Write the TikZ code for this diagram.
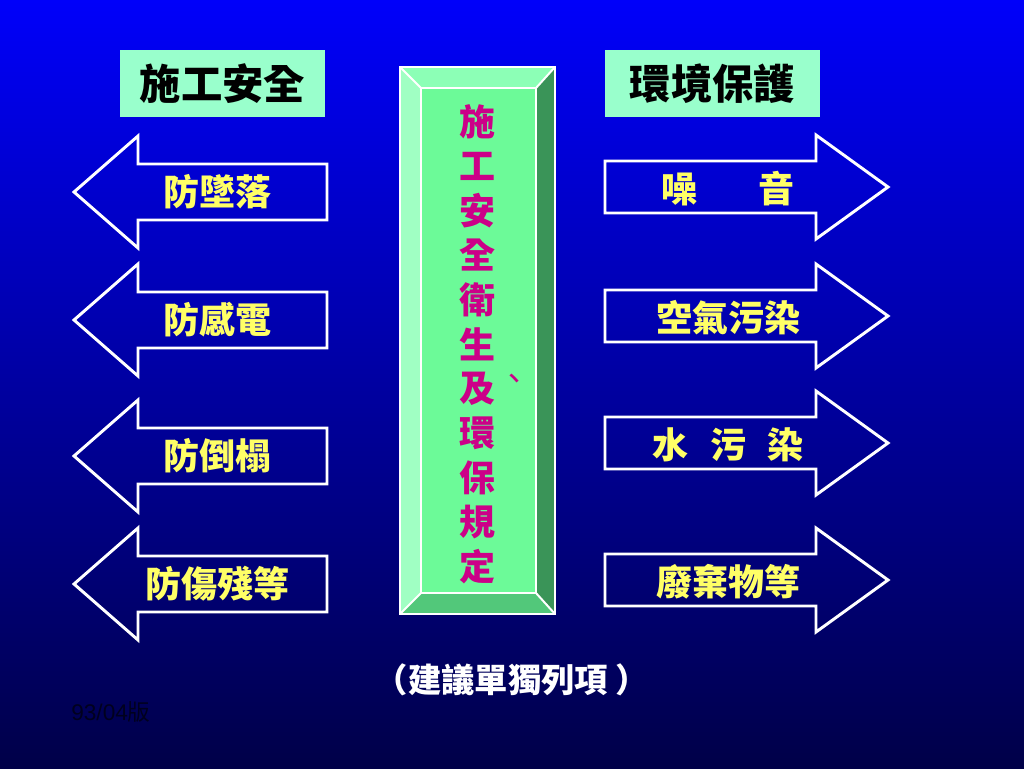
\documentclass[tikz,border=0pt]{standalone}
\usepackage{fontspec}
\newfontfamily\cjk{Noto Sans CJK TC}
\newfontfamily\lat{Liberation Sans}
\definecolor{topblue}{RGB}{0,0,250}
\definecolor{botblue}{RGB}{0,0,72}
\definecolor{mint}{RGB}{153,255,204}
\definecolor{face}{RGB}{108,250,152}
\definecolor{bevtop}{RGB}{140,255,182}
\definecolor{bevleft}{RGB}{160,255,195}
\definecolor{bevright}{RGB}{58,148,88}
\definecolor{bevbot}{RGB}{82,200,122}
\definecolor{lbl}{RGB}{255,255,102}
\definecolor{ttl}{RGB}{204,0,136}
\definecolor{foot}{RGB}{0,0,30}
\begin{document}
\begin{tikzpicture}[
    x=0.75pt, y=-0.75pt,
    header/.style={draw=none, fill=mint, font=\cjk\bfseries\fontsize{31}{31}\selectfont, text=black},
    arrowline/.style={draw=white, line width=2.2pt, line join=miter},
    label/.style={font=\cjk\bfseries\fontsize{27}{27}\selectfont, text=lbl, inner sep=0pt},
    vchar/.style={font=\cjk\bfseries\fontsize{27}{27}\selectfont, text=ttl, inner sep=0pt}
]
\useasboundingbox (0,0) rectangle (1024,768);
\shade[top color=topblue, bottom color=botblue] (0,0) rectangle (1024,768);

% headers
\node[header, minimum width=205*0.75pt, minimum height=67*0.75pt] (hsafe) at (222.5,83.5) {施工安全};
\node[header, minimum width=215*0.75pt, minimum height=67*0.75pt] (henv) at (712.5,83.5) {環境保護};

% center bevel box
\coordinate (oTL) at (400,67);  \coordinate (oTR) at (555,67);
\coordinate (oBL) at (400,614); \coordinate (oBR) at (555,614);
\coordinate (iTL) at (421,88);  \coordinate (iTR) at (536,88);
\coordinate (iBL) at (421,593); \coordinate (iBR) at (536,593);
\fill[bevtop] (oTL) -- (oTR) -- (iTR) -- (iTL) -- cycle;
\fill[bevleft] (oTL) -- (iTL) -- (iBL) -- (oBL) -- cycle;
\fill[bevright] (oTR) -- (oBR) -- (iBR) -- (iTR) -- cycle;
\fill[bevbot] (oBL) -- (iBL) -- (iBR) -- (oBR) -- cycle;
\fill[face] (iTL) rectangle (iBR);
\draw[white, line width=2.2pt] (oTL) rectangle (oBR);
\draw[white, line width=2.2pt] (iTL) rectangle (iBR);
\draw[white, line width=1.5pt] (oTL) -- (iTL) (oTR) -- (iTR) (oBL) -- (iBL) (oBR) -- (iBR);
\foreach \ch [count=\i] in {施,工,安,全,衛,生,及,環,保,規,定}
    \node[vchar] (c\i) at (477,{122+44.5*(\i-1)}) {\ch};
\node[vchar, font=\cjk\fontsize{24}{24}\selectfont] (comma) at (514,382) {、};

% left arrows
\foreach \y/\txt [count=\i] in {192/防墜落, 320/防感電, 456/防倒榻, 584/防傷殘等} {
    \draw[arrowline] (327,\y-28) -- (138,\y-28) -- (138,\y-56) -- (74,\y)
        -- (138,\y+56) -- (138,\y+28) -- (327,\y+28) -- cycle;
    \node[label] (l\i) at (217,\y) {\txt};
}

% right arrows
\foreach \y/\txt [count=\i] in {187/噪\hspace{1.7em}音, 316/空氣污染, 443/水\hspace{0.6em}污\hspace{0.6em}染, 580/廢棄物等} {
    \draw[arrowline] (605,\y-26) -- (816,\y-26) -- (816,\y-52) -- (888,\y)
        -- (816,\y+52) -- (816,\y+26) -- (605,\y+26) -- cycle;
    \node[label] (r\i) at (728,\y+2) {\txt};
}

\node[font=\cjk\bfseries\fontsize{25}{25}\selectfont, text=white] (note) at (512,680) {（建議單獨列項 ）};
\node[font=\fontsize{17}{17}\selectfont, text=foot, anchor=west, inner sep=0pt] (date) at (71,712) {\lat 93/04\cjk 版};
\end{tikzpicture}
\end{document}
